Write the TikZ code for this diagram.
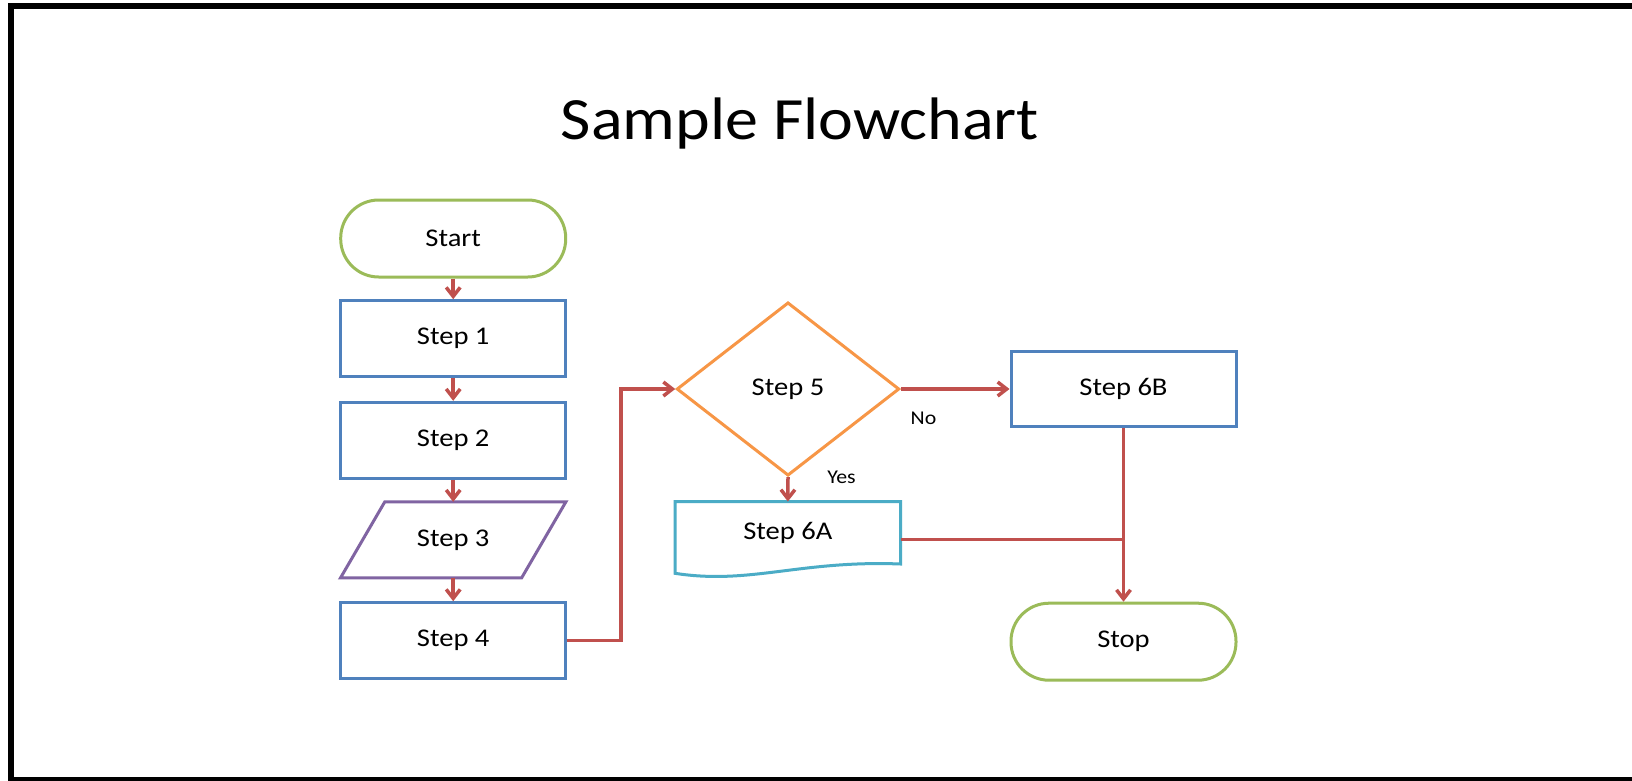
\documentclass[tikz,border=0pt]{standalone}
\usepackage{fontspec}
\setmainfont{Carlito}[FakeStretch=1.12]
\newfontfamily\titlefont{Carlito}[FakeStretch=1.1]
\usetikzlibrary{shapes.geometric,arrows.meta,calc}
\definecolor{cgreen}{HTML}{9BBB59}
\definecolor{cblue}{HTML}{4F81BD}
\definecolor{cpurple}{HTML}{8064A2}
\definecolor{corange}{HTML}{F79646}
\definecolor{ccyan}{HTML}{4BACC6}
\definecolor{cred}{HTML}{C0504D}
\begin{document}
\begin{tikzpicture}[x=1pt,y=-1pt,
  nodefont/.style={font=\fontsize{25.5}{30}\selectfont},
  box/.style={draw=cblue, line width=3pt, minimum width=225pt, minimum height=76pt, inner sep=0pt, nodefont},
  term/.style={draw=cgreen, line width=3pt, rounded corners=38pt, minimum width=225pt, minimum height=77pt, inner sep=0pt, nodefont},
  plainbox/.style={inner sep=0pt, nodefont},
  decision/.style={diamond, draw=corange, line width=3pt, minimum width=222.6pt, minimum height=173.3pt, inner sep=0pt, nodefont},
  conn/.style={draw=cred, line width=3.5pt, -{Straight Barb[length=9pt,width=14pt]}},
  plainline/.style={draw=cred, line width=3.5pt},
  lbl/.style={inner sep=0pt, font=\fontsize{19.5}{23}\selectfont}]
\useasboundingbox (0,0) rectangle (1632,780);
\clip (0,0) rectangle (1632,780);
\fill[white] (0,0) rectangle (1632,780);
\draw[line width=6pt] (11,6) rectangle (1645,780);

\node[anchor=base, inner sep=0pt, font=\titlefont\fontsize{60}{64}\selectfont] (title) at (800,139) {Sample Flowchart};

\node[term] (start) at (453.2,238.5) {Start};
\node[box] (s1) at (453.2,338.7) {Step 1};
\node[box] (s2) at (453.2,440.3) {Step 2};
\node[plainbox, minimum width=225pt, minimum height=75.7pt] (s3) at (453.2,539.85) {Step 3};
\draw[cpurple, line width=3pt, line join=miter]
  (s3.south west) -- ([xshift=-44.3pt]s3.south east) -- (s3.north east) -- ([xshift=44.3pt]s3.north west) -- cycle;
\node[box] (s4) at (453.2,640.7) {Step 4};

\node[decision] (s5) at (788,389) {Step 5};
\node[box, minimum height=75.6pt] (s6b) at (1123.5,389) {Step 6B};
\node[plainbox, minimum width=225.7pt, minimum height=62.3pt] (s6a) at (787.85,532.85) {Step 6A};
\draw[ccyan, line width=3pt, line join=miter]
  (675,501.7) -- (900.7,501.7) -- (900.7,564)
  .. controls (800,560) and (750,585) .. (675,573.3) -- cycle;
\node[term] (stop) at (1123.5,641.7) {Stop};

\node[lbl] (yes) at (841.5,477) {Yes};
\node[lbl] (no) at (923.5,418.5) {No};

\draw[conn] (start) -- (s1);
\draw[conn] (s1) -- (s2);
\draw[conn] (s2) -- (s3);
\draw[conn] (s3) -- (s4);
\draw[conn] (s4.east) -- ++(54,0) |- (s5.west);
\draw[conn] (s5.east) -- (s6b.west);
\draw[conn] (s5.south) -- (s6a.north);
\draw[conn] (s6b.south) -- (stop.north);
\path ([yshift=-6.5pt]s6a.east) coordinate (j1);
\coordinate (j2) at (j1 -| s6b.south);
\draw[plainline] (j1) -- (j2);
\end{tikzpicture}
\end{document}
